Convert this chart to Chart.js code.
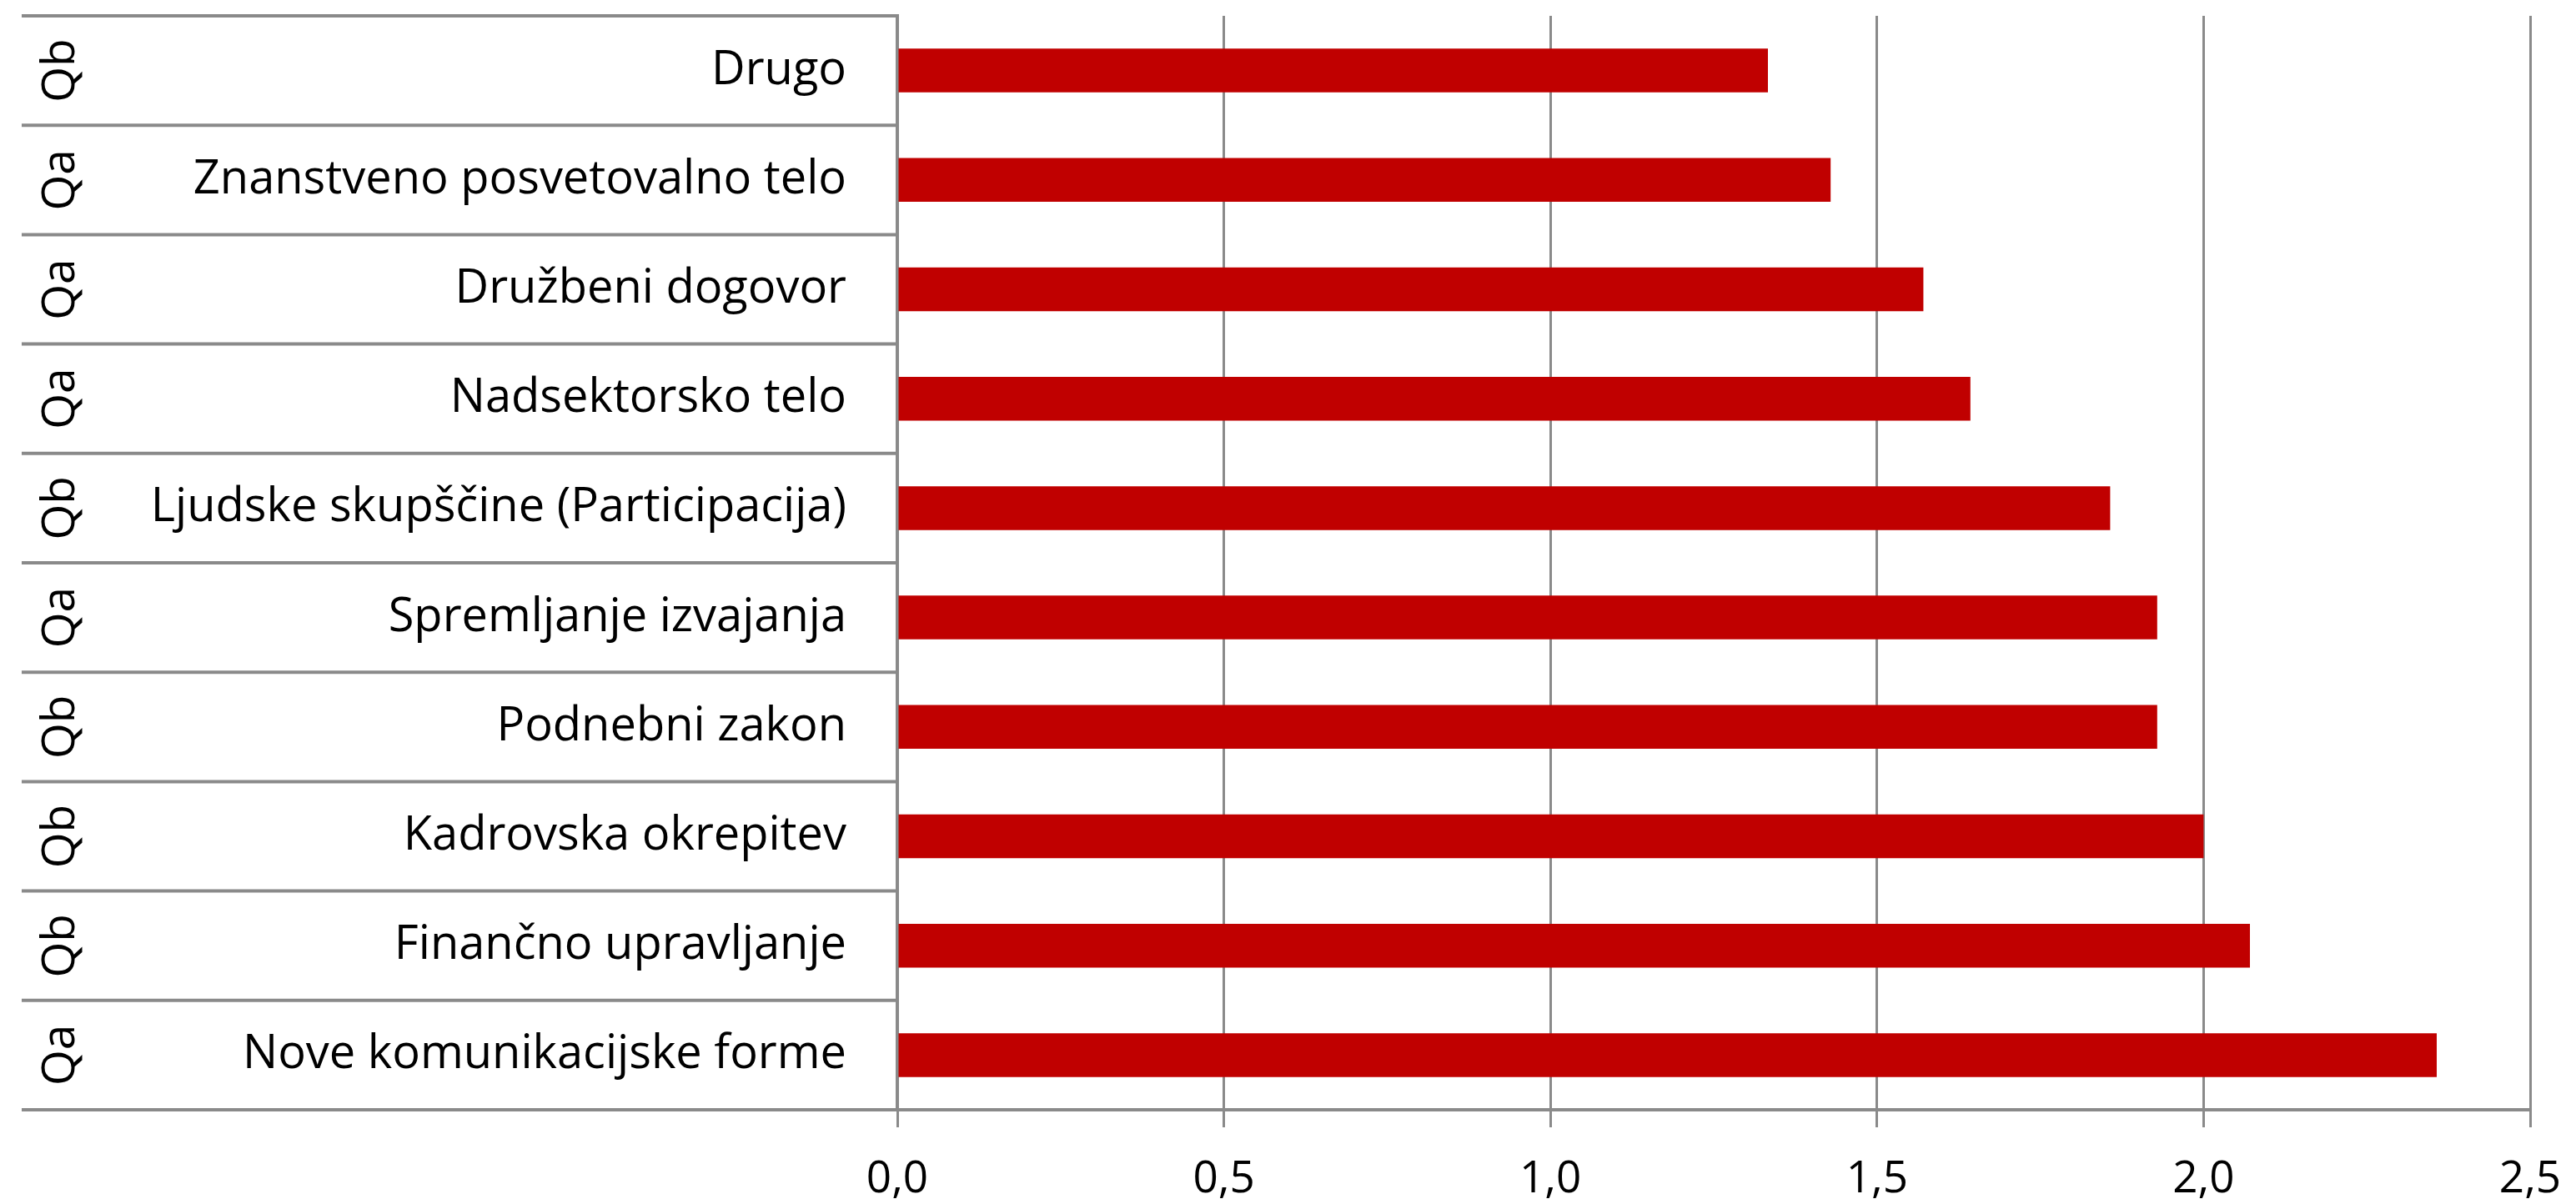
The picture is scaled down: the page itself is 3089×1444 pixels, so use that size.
<!DOCTYPE html>
<html>
<head>
<meta charset="utf-8">
<script src="https://cdn.jsdelivr.net/npm/chart.js@4"></script>
<style>
  html, body { margin: 0; padding: 0; background: #ffffff; }
  canvas { display: block; }
</style>
</head>
<body>
<canvas id="chart" width="3089" height="1444"></canvas>
<script>
// ---- data ----
const categories = [
  "Drugo",
  "Znanstveno posvetovalno telo",
  "Družbeni dogovor",
  "Nadsektorsko telo",
  "Ljudske skupščine (Participacija)",
  "Spremljanje izvajanja",
  "Podnebni zakon",
  "Kadrovska okrepitev",
  "Finančno upravljanje",
  "Nove komunikacijske forme"
];
const groups = ["Qb", "Qa", "Qa", "Qa", "Qb", "Qa", "Qb", "Qb", "Qb", "Qa"];
const values = [1.333, 1.429, 1.571, 1.643, 1.857, 1.929, 1.929, 2.0, 2.071, 2.357];
const xMin = 0;
const xMax = 2.5;
const xStep = 0.5;

// ---- styles ----
const FONT = "'Open Sans'";
const LABEL_SIZE = 56;
const TICK_SIZE = 53;
const GROUP_SIZE = 55;
const LINE_COLOR = "#8a8a8a";
const BAR_COLOR = "#C00000";
const LEFT_PAD = 26;

const groupAxisPlugin = {
  id: "groupAxis",
  afterDraw(chart) {
    const ctx = chart.ctx;
    const ys = chart.scales.y;
    const area = chart.chartArea;
    const x0 = area.left - ys.width;
    const x1 = area.left;
    ctx.save();
    // separators between category rows
    ctx.strokeStyle = LINE_COLOR;
    ctx.lineWidth = 4;
    for (let i = 0; i <= categories.length; i++) {
      const y = ys.getPixelForValue(i - 0.5);
      ctx.beginPath();
      ctx.moveTo(x0, y);
      ctx.lineTo(x1, y);
      ctx.stroke();
    }
    // outer group labels, rotated
    ctx.fillStyle = "#000000";
    ctx.font = GROUP_SIZE + "px " + FONT;
    ctx.textAlign = "center";
    ctx.textBaseline = "middle";
    for (let i = 0; i < groups.length; i++) {
      const y = ys.getPixelForValue(i);
      ctx.save();
      ctx.translate(x0 + 47, y);
      ctx.rotate(-Math.PI / 2);
      ctx.fillText(groups[i], 0, 0);
      ctx.restore();
    }
    ctx.restore();
  }
};

new Chart(document.getElementById("chart"), {
  type: "bar",
  data: {
    labels: categories,
    datasets: [{
      data: values,
      backgroundColor: BAR_COLOR,
      borderWidth: 0,
      barPercentage: 0.4,
      categoryPercentage: 1.0
    }]
  },
  options: {
    indexAxis: "y",
    responsive: false,
    animation: false,
    devicePixelRatio: 1,
    layout: { padding: { left: LEFT_PAD, top: 19, right: 55, bottom: 0 } },
    plugins: { legend: { display: false }, tooltip: { enabled: false } },
    scales: {
      x: {
        type: "linear",
        min: xMin,
        max: xMax,
        ticks: {
          stepSize: xStep,
          color: "#000000",
          font: { family: FONT, size: TICK_SIZE },
          padding: 31,
          callback: (v) => Number(v).toFixed(1).replace(".", ",")
        },
        grid: { color: LINE_COLOR, lineWidth: 3, tickLength: 21, drawTicks: true },
        border: { color: LINE_COLOR, width: 4 },
        afterFit: (s) => {
          s.height = 1444 - 1331;
          s.paddingLeft = 0;
          s.paddingRight = 0;
        }
      },
      y: {
        type: "category",
        ticks: {
          color: "#000000",
          font: { family: FONT, size: LABEL_SIZE },
          padding: 61
        },
        grid: { display: false, drawTicks: false, tickLength: 0 },
        border: { color: LINE_COLOR, width: 4 },
        afterFit: (s) => {
          s.width = 1076 - LEFT_PAD;
          s.paddingTop = 0;
          s.paddingBottom = 0;
        }
      }
    }
  },
  plugins: [groupAxisPlugin]
});
</script>
</body>
</html>
